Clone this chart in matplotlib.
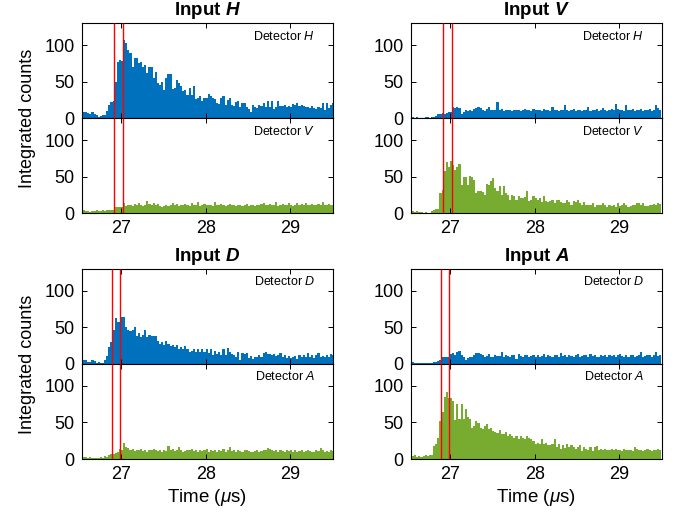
import numpy as np
import matplotlib
matplotlib.use("Agg")
import matplotlib.pyplot as plt

plt.rcParams['font.family'] = ['Liberation Sans', 'DejaVu Sans']
plt.rcParams['mathtext.fontset'] = 'custom'
plt.rcParams['mathtext.rm'] = 'Liberation Sans'
plt.rcParams['mathtext.it'] = 'Liberation Sans:italic'
plt.rcParams['mathtext.bf'] = 'Liberation Sans:bold'
plt.rcParams['mathtext.bfit'] = 'Liberation Sans:italic:bold'

# ---------------- data ----------------
bin_start = 26.52
bin_width = 0.025

inputs = ["H", "V", "D", "A"]
det_top = ["H", "H", "D", "D"]
det_bot = ["V", "V", "A", "A"]
gate_lines = [(26.915, 27.015), (26.915, 27.015), (26.885, 26.985), (26.885, 26.985)]

H_detH = [17,9,9,7,6,9,6,4,2,3,
          4,5,10,18,22,24,50,77,80,78,
          107,103,94,90,70,82,82,75,77,70,
          73,62,70,70,55,64,48,45,50,39,
          55,60,60,40,41,53,48,44,38,39,
          32,41,32,44,26,28,30,23,28,28,
          33,30,28,27,21,19,28,30,18,25,
          28,18,17,22,23,16,21,21,16,13,
          9,18,16,14,18,17,21,16,24,16,
          23,13,16,23,17,17,18,15,17,16,
          19,18,21,17,18,17,16,15,14,17,
          14,13,16,14,21,11,21,14,18,21]

H_detV = [5,4,3,3,2,3,3,4,3,3,4,3,4,4,4,5,
          8,8,8,9,
          14,10,11,12,10,13,12,14,11,10,
          12,17,13,12,14,11,13,10,9,10,
          11,10,12,14,11,13,10,12,11,13,
          12,10,14,11,12,15,10,11,13,12,
          11,12,10,16,11,12,13,11,10,12,
          13,11,12,10,11,12,10,11,13,10,
          11,12,10,11,12,13,14,11,12,13,
          11,12,15,10,11,13,12,11,14,12,
          10,12,14,11,13,12,14,11,12,13,
          12,11,13,12,15,11,12,13,12,11]

V_detH = [2,2,1,2,1,1,1,2,2,1,2,2,3,
          6,6,7,6,7,8,8,
          15,14,15,14,6,8,11,10,12,10,
          13,14,15,14,11,10,13,16,12,11,
          11,22,12,13,10,12,11,12,10,11,
          12,11,10,12,13,11,12,10,13,12,
          11,12,10,13,11,12,10,16,12,11,
          10,12,11,18,12,10,11,13,10,12,
          11,10,12,11,16,10,12,11,13,10,
          12,14,11,10,12,13,11,20,13,11,
          12,10,18,12,11,13,10,12,11,13,
          10,12,11,13,10,12,18,14,12]

V_detV = [3,3,2,3,2,2,1,2,1,1,3,4,6,6,
          28,32,58,70,64,71,66,59,64,68,
          39,49,49,39,51,50,45,28,31,30,
          29,25,40,39,44,48,34,30,38,25,
          38,28,25,18,25,23,18,24,21,21,
          22,31,17,18,23,21,18,21,16,23,
          17,15,17,18,14,18,18,16,14,14,
          18,15,12,17,16,18,14,12,15,11,
          12,11,14,9,12,11,12,14,11,8,
          12,10,12,9,14,10,12,14,11,9,
          10,11,12,14,14,12,14,10,10,12,
          11,13,12,14,13]

D_detD = [10,5,5,3,3,5,4,2,3,1,2,5,11,23,
          30,46,63,57,58,65,64,51,46,45,
          47,51,39,43,37,40,47,37,40,38,
          39,39,31,28,30,26,32,28,24,26,
          23,26,21,23,21,25,20,17,18,20,
          17,20,17,20,16,20,15,20,12,18,
          14,17,12,20,12,22,16,14,12,9,
          16,5,15,14,15,8,11,7,9,9,
          12,9,15,17,14,14,12,14,11,12,
          15,9,12,8,11,8,9,11,7,12,
          9,12,9,15,9,12,8,12,15,9,
          11,9,13,10,14,12]

D_detA = [6,3,3,2,3,2,2,1,2,3,2,4,3,6,
          7,7,8,9,14,13,22,17,15,12,
          14,11,13,12,14,11,12,10,13,12,
          14,12,11,13,10,12,11,18,12,14,
          11,13,16,12,10,11,13,12,14,11,
          12,10,13,11,12,14,10,12,11,13,
          10,12,11,14,10,12,16,11,13,10,
          12,11,10,12,13,11,10,9,11,12,
          10,11,12,13,15,14,12,11,13,10,
          12,11,10,12,11,13,10,12,9,11,
          12,10,11,13,11,10,9,12,11,15,
          12,9,11,10,12,11]

A_detD = [3,3,2,2,2,1,2,2,1,2,2,3,3,4,
          5,9,10,9,9,14,15,13,17,18,
          13,10,6,8,9,10,12,15,15,14,
          12,10,11,14,9,10,12,11,11,17,
          10,12,11,9,13,12,7,14,11,10,
          12,13,9,11,12,10,12,10,11,14,
          10,12,11,9,13,12,10,15,11,12,
          10,13,11,9,12,14,10,11,13,12,
          10,14,11,12,10,9,12,11,13,10,
          12,11,13,10,12,14,11,9,12,10,
          13,12,10,11,12,16,10,11,12,13,
          10,12,17,11,13]

A_detA = [12,4,5,3,4,3,4,5,4,6,6,18,20,29,
          52,64,85,92,83,83,80,54,75,55,
          75,55,69,57,55,43,45,52,49,43,
          41,45,48,41,43,38,37,36,40,34,
          34,37,31,34,32,29,31,27,31,29,
          27,31,29,27,25,20,22,20,28,20,
          22,19,19,20,28,17,20,14,19,15,
          21,17,19,17,14,17,19,11,17,14,
          13,17,11,17,18,13,14,13,14,13,
          13,14,12,14,13,13,11,14,12,13,
          12,11,17,14,12,13,11,12,14,12,
          11,12,13,14,13]

top_series = [H_detH, V_detH, D_detD, A_detD]
bot_series = [H_detV, V_detV, D_detA, A_detA]

xlim = (26.53, 29.5)
ylim = (0, 130)
blue = '#0072BD'
green = '#77AC30'

# ---------------- layout ----------------
W, H = 682, 514
fig = plt.figure(figsize=(W / 100, H / 100), dpi=100)

col_x = [81.7, 410.7]
col_w = 251.0
row_tops = [23.3, 269.0]
sub_h = 95.0


def frac_rect(x, y_top, w, h):
    return [x / W, 1 - (y_top + h) / H, w / W, h / H]


for k in range(4):
    r, c = divmod(k, 2)
    x0 = col_x[c]
    yt = row_tops[r]
    ax_t = fig.add_axes(frac_rect(x0, yt, col_w, sub_h))
    ax_b = fig.add_axes(frac_rect(x0, yt + sub_h, col_w, sub_h))
    for ax, vals, col, det in ((ax_t, top_series[k], blue, det_top[k]),
                               (ax_b, bot_series[k], green, det_bot[k])):
        vals = np.asarray(vals, dtype=float)
        left = bin_start + bin_width * np.arange(len(vals))
        ax.bar(left, vals, width=bin_width, align='edge', color=col,
               edgecolor='none', linewidth=0)
        for g in gate_lines[k]:
            ax.axvline(g, color='red', lw=1.0, zorder=5, clip_on=True,
                       solid_capstyle='butt')
        ax.set_xlim(*xlim)
        ax.set_ylim(*ylim)
        ax.set_yticks([0, 50, 100])
        ax.set_xticks([27, 28, 29])
        ax.tick_params(direction='in', top=True, right=True, length=3.6,
                       width=0.7, labelsize=13, pad=5)
        for s in ax.spines.values():
            s.set_linewidth(0.8)
        ax.text(0.93, 0.865, "Detector $%s$" % det, transform=ax.transAxes,
                ha='right', va='center', fontsize=9)
    ax_t.tick_params(labelbottom=False)
    if r == 1:
        ax_b.set_xlabel(r"Time ($\mu$s)", fontsize=13.5, labelpad=3)
    ax_t.set_title(r"Input $\mathbfit{%s}$" % inputs[k], fontsize=13.5,
                   fontweight='bold', pad=6)
    if c == 0:
        yc = yt + sub_h
        fig.text(27 / W, 1 - yc / H, "Integrated counts", rotation=90,
                 ha='center', va='center', fontsize=13)

fig.savefig("out.png", dpi=100)
